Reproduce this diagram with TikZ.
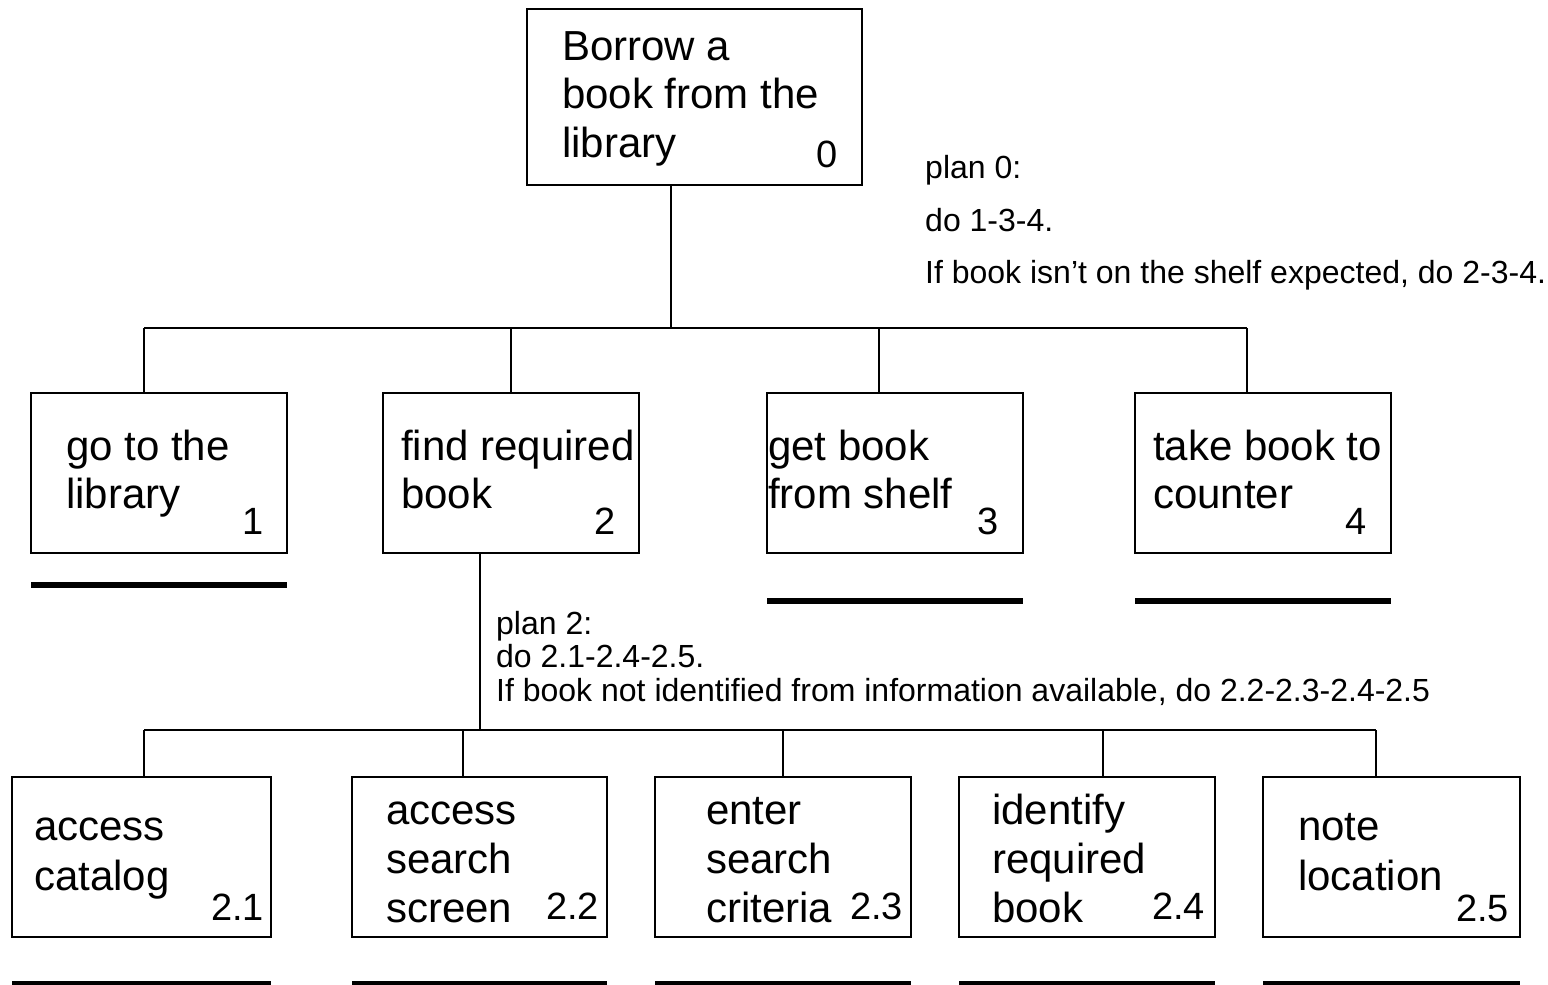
\documentclass[tikz,border=0pt]{standalone}
\usepackage{fontspec}
\setmainfont{Liberation Sans}
\begin{document}
\begin{tikzpicture}[x=1pt,y=-1pt,
  box/.style={draw, line width=2pt, anchor=north west, inner sep=0pt, outer sep=0pt},
  big/.style={font=\fontsize{42}{48}\selectfont, inner sep=0pt, anchor=base west},
  num/.style={font=\fontsize{38}{44}\selectfont, inner sep=0pt, anchor=base west},
  plan/.style={font=\fontsize{32}{36}\selectfont, inner sep=0pt, anchor=base west},
  conn/.style={line width=2pt},
  ulA/.style={line width=6pt},
  ulB/.style={line width=4pt}]
\useasboundingbox (0,0) rectangle (1548,985);

% level 0
\node[box, minimum width=335pt, minimum height=176pt] (b0) at (527,9) {};
\node[big] (t0a) at (562,60) {Borrow a};
\node[big] (t0b) at (562,108) {book from the};
\node[big] (t0c) at (562,157) {library};
\node[num] (n0) at (816,167) {0};

% plan 0
\node[plan] (p0a) at (925,178) {plan 0:};
\node[plan] (p0b) at (925,231) {do 1-3-4.};
\node[plan] (p0c) at (925,283) {If book isn’t on the shelf expected, do 2-3-4.};

% level 1 boxes
\node[box, minimum width=256pt, minimum height=160pt] (b1) at (31,393) {};
\node[box, minimum width=256pt, minimum height=160pt] (b2) at (383,393) {};
\node[box, minimum width=256pt, minimum height=160pt] (b3) at (767,393) {};
\node[box, minimum width=256pt, minimum height=160pt] (b4) at (1135,393) {};

\node[big] (t1a) at (66,460) {go to the};
\node[big] (t1b) at (66,508) {library};
\node[num] (n1) at (242,534) {1};
\node[big] (t2a) at (401,460) {find required};
\node[big] (t2b) at (401,508) {book};
\node[num] (n2) at (594,534) {2};
\node[big] (t3a) at (768,460) {get book};
\node[big] (t3b) at (768,508) {from shelf};
\node[num] (n3) at (977,534) {3};
\node[big] (t4a) at (1153,460) {take book to};
\node[big] (t4b) at (1153,508) {counter};
\node[num] (n4) at (1345,534) {4};

% connectors level 0 -> 1
\coordinate (j0) at (671,328);
\coordinate (busL) at (144,328);
\coordinate (busR) at (1247,328);
\draw[conn] (b0.south -| j0) -- (j0);
\draw[conn] (busL) -- (busR);
\draw[conn] (busL) -- (busL |- b1.north);
\draw[conn] (511,328) coordinate (s2) -- (s2 |- b2.north);
\draw[conn] (879,328) coordinate (s3) -- (s3 |- b3.north);
\draw[conn] (busR) -- (busR |- b4.north);

% underlines level 1
\draw[ulA] (b1.south west |- 0,585) -- (b1.south east |- 0,585);
\draw[ulA] (b3.south west |- 0,601) -- (b3.south east |- 0,601);
\draw[ulA] (b4.south west |- 0,601) -- (b4.south east |- 0,601);

% plan 2
\node[plan] (p2a) at (496,634) {plan 2:};
\node[plan] (p2b) at (496,667) {do 2.1-2.4-2.5.};
\node[plan] (p2c) at (496,701) {If book not identified from information available, do 2.2-2.3-2.4-2.5};

% level 2 boxes
\node[box, minimum width=259pt, minimum height=160pt] (c1) at (12,777) {};
\node[box, minimum width=255pt, minimum height=160pt] (c2) at (352,777) {};
\node[box, minimum width=256pt, minimum height=160pt] (c3) at (655,777) {};
\node[box, minimum width=256pt, minimum height=160pt] (c4) at (959,777) {};
\node[box, minimum width=257pt, minimum height=160pt] (c5) at (1263,777) {};

\node[big] (u1a) at (34,840) {access};
\node[big] (u1b) at (34,890) {catalog};
\node[num] (m1) at (211,920) {2.1};
\node[big] (u2a) at (386,824) {access};
\node[big] (u2b) at (386,873) {search};
\node[big] (u2c) at (386,922) {screen};
\node[num] (m2) at (546,919) {2.2};
\node[big] (u3a) at (706,824) {enter};
\node[big] (u3b) at (706,873) {search};
\node[big] (u3c) at (706,922) {criteria};
\node[num] (m3) at (850,919) {2.3};
\node[big] (u4a) at (992,824) {identify};
\node[big] (u4b) at (992,873) {required};
\node[big] (u4c) at (992,922) {book};
\node[num] (m4) at (1152,919) {2.4};
\node[big] (u5a) at (1298,840) {note};
\node[big] (u5b) at (1298,890) {location};
\node[num] (m5) at (1456,921) {2.5};

% connectors level 1 -> 2
\coordinate (j2) at (480,730);
\coordinate (bus2L) at (144,730);
\coordinate (bus2R) at (1376,730);
\draw[conn] (b2.south -| j2) -- (j2);
\draw[conn] (bus2L) -- (bus2R);
\draw[conn] (bus2L) -- (bus2L |- c1.north);
\draw[conn] (463,730) coordinate (r2) -- (r2 |- c2.north);
\draw[conn] (783,730) coordinate (r3) -- (r3 |- c3.north);
\draw[conn] (1103,730) coordinate (r4) -- (r4 |- c4.north);
\draw[conn] (bus2R) -- (bus2R |- c5.north);

% underlines level 2
\foreach \c in {c1,c2,c3,c4,c5}
  \draw[ulB] (\c.south west |- 0,983) -- (\c.south east |- 0,983);
\end{tikzpicture}
\end{document}
